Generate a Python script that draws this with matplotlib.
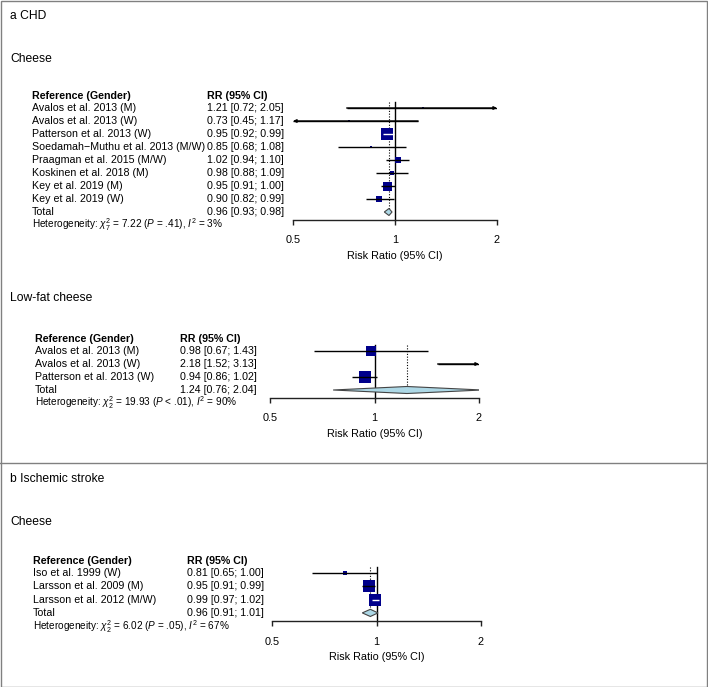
import numpy as np
import matplotlib
matplotlib.use('Agg')
import matplotlib.pyplot as plt
from matplotlib import transforms
from matplotlib.patches import Polygon, Rectangle
from matplotlib.lines import Line2D

plt.rcParams['font.family'] = ['Liberation Sans', 'DejaVu Sans']
plt.rcParams['mathtext.fontset'] = 'custom'
plt.rcParams['mathtext.rm'] = 'Liberation Sans'
plt.rcParams['mathtext.it'] = 'Liberation Sans:italic'
plt.rcParams['mathtext.fallback'] = 'cm'

W, H = 708, 687

# a CHD, cheese
chd_studies = ['Avalos et al. 2013 (M)', 'Avalos et al. 2013 (W)', 'Patterson et al. 2013 (W)',
               'Soedamah\u2212Muthu et al. 2013 (M/W)', 'Praagman et al. 2015 (M/W)',
               'Koskinen et al. 2018 (M)', 'Key et al. 2019 (M)', 'Key et al. 2019 (W)']
chd_rr = [1.21, 0.73, 0.95, 0.85, 1.02, 0.98, 0.95, 0.90]
chd_lo = [0.72, 0.45, 0.92, 0.68, 0.94, 0.88, 0.91, 0.82]
chd_hi = [2.05, 1.17, 0.99, 1.08, 1.10, 1.09, 1.00, 0.99]
chd_w = [0.7, 0.7, 48, 1.3, 8.4, 5.4, 27, 8.4]
chd_total = [0.96, 0.93, 0.98]
chd_het = r'Heterogeneity: $\chi^2_7$ = 7.22 ($P$ = .41), $I^2$ = 3%'

# a CHD, low-fat cheese
lf_studies = ['Avalos et al. 2013 (M)', 'Avalos et al. 2013 (W)', 'Patterson et al. 2013 (W)']
lf_rr = [0.98, 2.18, 0.94]
lf_lo = [0.67, 1.52, 0.86]
lf_hi = [1.43, 3.13, 1.02]
lf_w = [27, 30, 36]
lf_total = [1.24, 0.76, 2.04]
lf_het = r'Heterogeneity: $\chi^2_2$ = 19.93 ($P$ < .01), $I^2$ = 90%'

# b ischemic stroke, cheese
is_studies = ['Iso et al. 1999 (W)', 'Larsson et al. 2009 (M)', 'Larsson et al. 2012 (M/W)']
is_rr = [0.81, 0.95, 0.99]
is_lo = [0.65, 0.91, 0.97]
is_hi = [1.00, 0.99, 1.02]
is_w = [5, 46, 49]
is_total = [0.96, 0.91, 1.01]
is_het = r'Heterogeneity: $\chi^2_2$ = 6.02 ($P$ = .05), $I^2$ = 67%'

fig = plt.figure(figsize=(W / 100, H / 100), dpi=100)
fig.patch.set_facecolor('white')

SQ = '#00008B'
FS = 7.7


def forest(x0, x1, y0, step, studies, rr, lo, hi, w, total, het, col_x, rr_x):
    n = len(studies)
    below = 0.62
    top = y0 - 0.5 * step
    bottom = y0 + (n + below) * step
    ax = fig.add_axes([x0 / W, 1 - bottom / H, (x1 - x0) / W, (bottom - top) / H])
    ax.set_xscale('log', base=2)
    ax.set_xlim(0.5, 2)
    ax.set_ylim(n + below, -0.5)
    ax.patch.set_alpha(0)
    for s in ['left', 'top', 'right']:
        ax.spines[s].set_visible(False)
    ax.spines['bottom'].set_linewidth(1.0)
    ax.spines['bottom'].set_color('#222222')
    ax.set_xticks([0.5, 1, 2])
    ax.set_xticklabels(['0.5', '1', '2'])
    ax.minorticks_off()
    ax.set_yticks([])
    ax.tick_params(axis='x', length=3.6, width=1.0, color='#222222', pad=7.5, labelsize=7.8)
    ax.set_xlabel('Risk Ratio (95% CI)', fontsize=7.8, labelpad=4)

    px_per = (x1 - x0) / 2.0
    wmax = max(w)
    ax.plot([1, 1], [-0.45, n + below], color='black', lw=1.0, zorder=2, clip_on=False)
    ax.plot([total[0], total[0]], [-0.45, n - 0.25], color='black', lw=0.8,
            ls=(0, (1, 1.5)), zorder=2)

    for i in range(n):
        a = max(lo[i], 0.5)
        b = min(hi[i], 2)
        side = max(12 * np.sqrt(w[i] / wmax), 2.2)
        inside = np.log2(hi[i] / lo[i]) * px_per < side
        if rr[i] >= 0.5 and rr[i] <= 2:
            ax.plot([rr[i]], [i], marker='s', ms=side * 0.72, mfc=SQ, mec=SQ,
                    mew=0, ls='none', zorder=3)
        lc = 'white' if inside else 'black'
        ax.plot([a, b], [i, i], color=lc, lw=1.0, zorder=4, solid_capstyle='butt')
        if hi[i] > 2:
            ax.annotate('', xy=(2, i), xytext=(a, i),
                        arrowprops=dict(arrowstyle='-|>', color='black', lw=1.0,
                                        mutation_scale=4.5, shrinkA=0, shrinkB=0), zorder=4)
        if lo[i] < 0.5:
            ax.annotate('', xy=(0.5, i), xytext=(b, i),
                        arrowprops=dict(arrowstyle='-|>', color='black', lw=1.0,
                                        mutation_scale=4.5, shrinkA=0, shrinkB=0), zorder=4)

    h = 0.27
    d = Polygon([(total[1], n), (total[0], n - h), (total[2], n), (total[0], n + h)],
                closed=True, fc='#ADD8E6', ec='#444444', lw=0.8, zorder=3)
    ax.add_patch(d)

    tr = transforms.blended_transform_factory(fig.transFigure, ax.transData)
    ax.text(col_x / W, -0.9, 'Reference (Gender)', transform=tr, fontsize=FS,
            fontweight='bold', va='center')
    ax.text(rr_x / W, -0.9, 'RR (95% CI)', transform=tr, fontsize=FS,
            fontweight='bold', va='center')
    for i in range(n):
        ax.text(col_x / W, i, studies[i], transform=tr, fontsize=FS, va='center')
        ax.text(rr_x / W, i, f'{rr[i]:.2f} [{lo[i]:.2f}; {hi[i]:.2f}]', transform=tr,
                fontsize=FS, va='center')
    ax.text(col_x / W, n, 'Total', transform=tr, fontsize=FS, va='center')
    ax.text(rr_x / W, n, f'{total[0]:.2f} [{total[1]:.2f}; {total[2]:.2f}]', transform=tr,
            fontsize=FS, va='center')
    ax.text(col_x / W, n + 1.0, het, transform=tr, fontsize=7.2, va='center')
    return ax


forest(293, 497, 108, 13.0, chd_studies, chd_rr, chd_lo, chd_hi, chd_w, chd_total,
       chd_het, 31.5, 207)
forest(270, 479, 351, 13.0, lf_studies, lf_rr, lf_lo, lf_hi, lf_w, lf_total,
       lf_het, 35, 180)
forest(272, 481, 573, 13.3, is_studies, is_rr, is_lo, is_hi, is_w, is_total,
       is_het, 33, 187)

TS = 8.7
fig.text(10 / W, 1 - 16 / H, 'a CHD', fontsize=TS, va='center')
fig.text(10 / W, 1 - 59 / H, 'Cheese', fontsize=TS, va='center')
fig.text(10 / W, 1 - 298 / H, 'Low-fat cheese', fontsize=TS, va='center')
fig.text(10 / W, 1 - 479 / H, 'b Ischemic stroke', fontsize=TS, va='center')
fig.text(10 / W, 1 - 522 / H, 'Cheese', fontsize=TS, va='center')

fig.add_artist(Rectangle((0.5 / W, 0.5 / H), 1 - 1.5 / W, 1 - 1.5 / H,
                         transform=fig.transFigure, fill=False, ec='#808080', lw=1.0))
fig.add_artist(Line2D([0, 1], [1 - 463 / H, 1 - 463 / H], transform=fig.transFigure,
                      color='#808080', lw=1.0))

fig.savefig('out.png', dpi=100)
